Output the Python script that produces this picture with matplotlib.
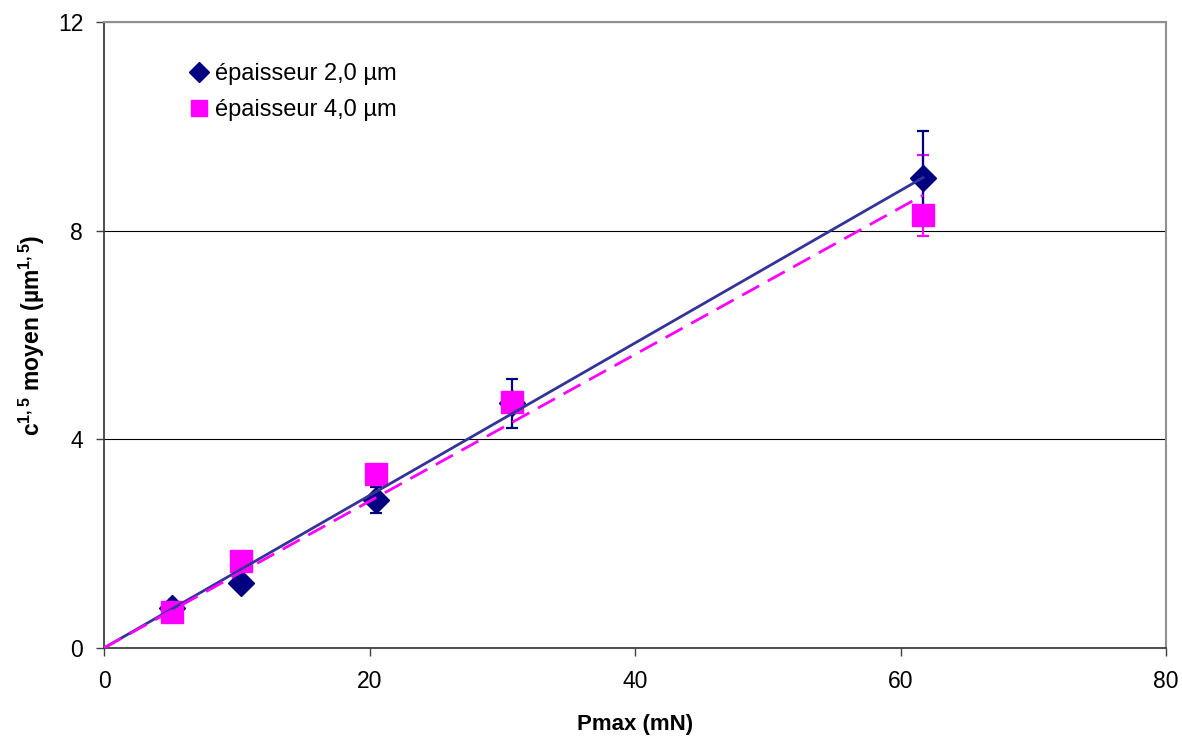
import numpy as np
import matplotlib
matplotlib.use('Agg')
import matplotlib.pyplot as plt

plt.rcParams['font.family'] = ['Liberation Sans', 'DejaVu Sans']
plt.rcParams['mathtext.fontset'] = 'custom'
plt.rcParams['mathtext.rm'] = 'Liberation Sans'
plt.rcParams['mathtext.bf'] = 'Liberation Sans:bold'

# data
pmax = [5.1, 10.3, 20.5, 30.7, 61.7]
c15_2um = [0.77, 1.25, 2.84, 4.69, 9.01]
err_2um = [0.0, 0.0, 0.25, 0.47, 0.90]
c15_4um = [0.69, 1.67, 3.34, 4.71, 8.30]
err_4um_low = [0.0, 0.0, 0.0, 0.0, 0.40]
err_4um_high = [0.0, 0.0, 0.0, 0.0, 1.15]

label_2um = 'épaisseur 2,0 µm'
label_4um = 'épaisseur 4,0 µm'

navy = '#000080'
trend_navy = '#333399'
magenta = '#FF00FF'

fig = plt.figure(figsize=(11.82, 7.36), dpi=100)
ax = fig.add_axes([0.088, 0.1196, 0.8985, 0.8505])

x = np.array(pmax)
y1 = np.array(c15_2um)
y2 = np.array(c15_4um)

ax.errorbar(x, y1, yerr=err_2um, fmt='none', ecolor=navy, elinewidth=1.6,
            capsize=4.5, capthick=1.6, zorder=3)
ax.plot(x, y1, 'D', color=navy, markersize=13.5, label=label_2um, zorder=4)
ax.errorbar(x, y2, yerr=[err_4um_low, err_4um_high], fmt='none', ecolor=magenta,
            elinewidth=1.6, capsize=4.5, capthick=1.6, zorder=2.5)
ax.plot(x, y2, 's', color=magenta, markersize=15.5, label=label_4um, zorder=4.5)

# linear trendlines through the origin
xs = np.array([0, x.max()])
k1 = (x * y1).sum() / (x * x).sum()
k2 = (x * y2).sum() / (x * x).sum()
ax.plot(xs, k1 * xs, '-', color=trend_navy, lw=2.0, zorder=5)
ax.plot(xs, k2 * xs, '--', color=magenta, lw=2.0, dashes=(7, 3.5), zorder=5)

ax.set_xlim(0, 80)
ax.set_ylim(0, 12)
ax.set_xticks([0, 20, 40, 60, 80])
ax.set_yticks([0, 4, 8, 12])
ax.yaxis.grid(True, color='black', lw=0.8)
ax.set_axisbelow(True)
ax.tick_params(axis='both', direction='out', length=6, width=1, labelsize=16.5,
               color='#404040')
ax.tick_params(axis='x', pad=10)
ax.tick_params(axis='y', pad=9)

for side in ['top', 'right']:
    ax.spines[side].set_color('#909090')
    ax.spines[side].set_linewidth(1.5)
for side in ['left', 'bottom']:
    ax.spines[side].set_color('#404040')
    ax.spines[side].set_linewidth(1.3)

ax.set_xlabel('Pmax (mN)', fontsize=16, fontweight='bold', labelpad=15)
ax.set_ylabel(r'c$^{\mathbf{1,5}}$ moyen (µm$^{\mathbf{1,5}}$)', fontsize=16.5,
              fontweight='bold', labelpad=8)

leg = ax.legend(loc='upper left', bbox_to_anchor=(0.062, 0.968), frameon=False,
                fontsize=17, handlelength=0.7, handletextpad=0.3,
                labelspacing=0.6, markerscale=0.75)

fig.savefig('out.png', dpi=100)
